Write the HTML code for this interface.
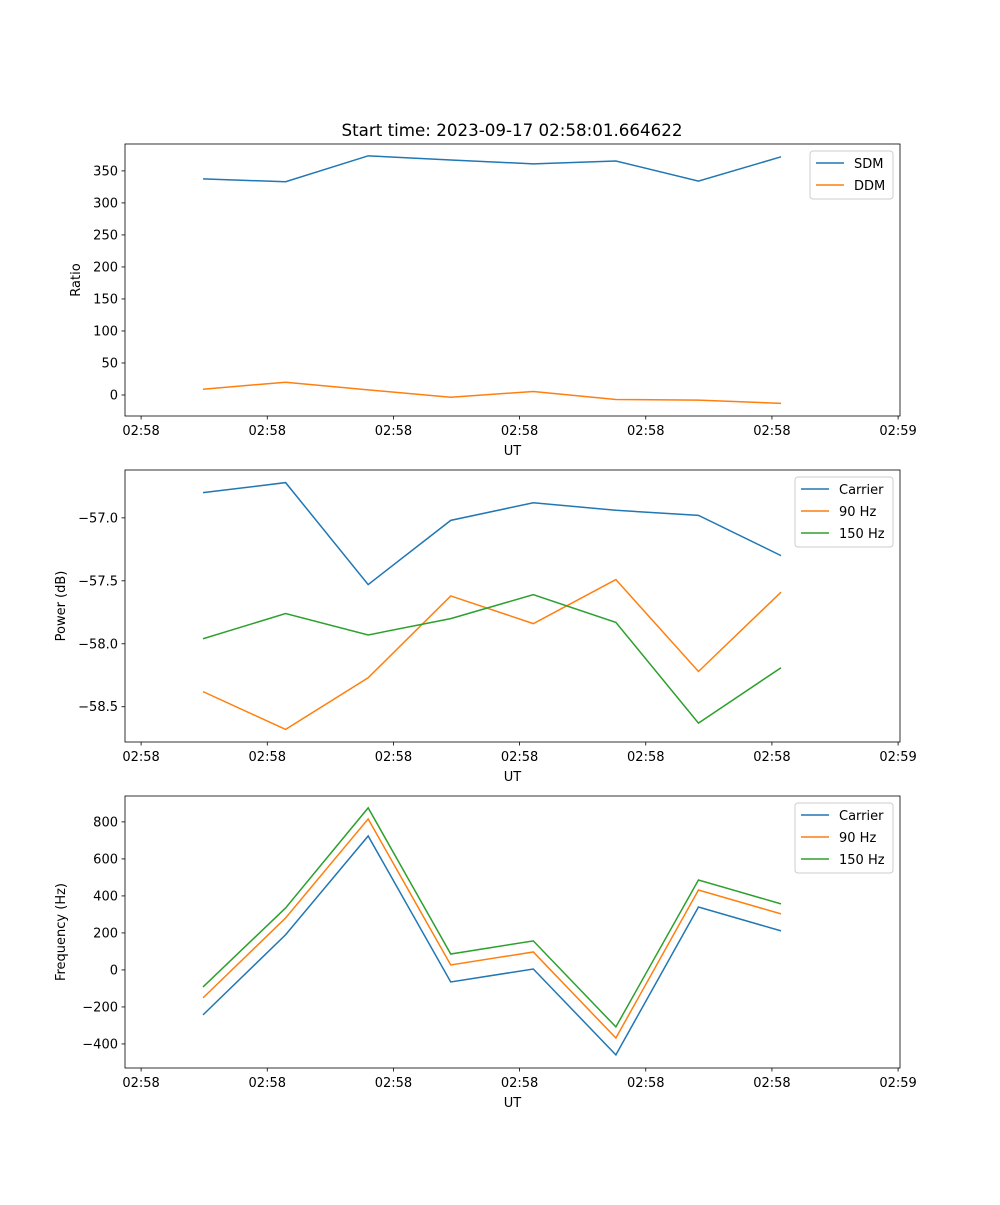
<!DOCTYPE html>
<html><head><meta charset="utf-8"><style>
body{margin:0;background:#fff}
svg text{font-family:"DejaVu Sans","Liberation Sans",sans-serif;fill:#000}
</style></head><body>
<svg id="fig" width="1000" height="1200" xmlns="http://www.w3.org/2000/svg"></svg>
<script>
const xIndex=[0,1,2,3,4,5,6,7];
const xTickLabels=["02:58","02:58","02:58","02:58","02:58","02:58","02:59"];
const xTickPos=[-0.75,0.778,2.306,3.834,5.362,6.89,8.418];
const sdm=[337.5,333,373.5,367,361,365.5,334,372];
const ddm=[9,20,8,-3.5,5.5,-7,-8,-13];
const pCarrier=[-56.80,-56.72,-57.53,-57.02,-56.88,-56.94,-56.98,-57.30];
const p90=[-58.38,-58.68,-58.27,-57.62,-57.84,-57.49,-58.22,-57.59];
const p150=[-57.96,-57.76,-57.93,-57.80,-57.61,-57.83,-58.63,-58.19];
const fCarrier=[-243,190,724,-65,5,-459,340,211];
const f90=[-151,281,816,27,97,-368,432,303];
const f150=[-92,335,876,86,157,-308,486,357];
const C=["#1f77b4","#ff7f0e","#2ca02c"];
const svg=document.getElementById('fig');
const NS="http://www.w3.org/2000/svg";
function el(t,a,p){const e=document.createElementNS(NS,t);for(const k in a)e.setAttribute(k,a[k]);(p||svg).appendChild(e);return e;}
const L=125,R=900,xmin=-0.945,xmax=8.441;
const xs=v=>L+(v-xmin)/(xmax-xmin)*(R-L);
function panel(name,top,ymin,ymax,yticks,ylabFmt,ylabel,series,names,legW){
  const bot=top+272;
  const g=el('g',{});
  
  
  const ys=v=>bot-(v-ymin)/(ymax-ymin)*272;
  series.forEach((s,i)=>{
    const pl=el('polyline',{points:s.map((v,j)=>xs(xIndex[j])+','+ys(v)).join(' '),fill:'none',stroke:C[i],'stroke-width':1.5},g);
    
    
  });
  el('rect',{x:L,y:top,width:R-L,height:272,fill:'none',stroke:'#000','stroke-width':0.8},g);
  xTickPos.forEach((p,i)=>{const x=xs(p);
    el('line',{x1:x,x2:x,y1:bot,y2:bot+3.5,stroke:'#000','stroke-width':0.8},g);
    const t=el('text',{x:x,y:bot+19,'font-size':13,'text-anchor':'middle'},g);t.textContent=xTickLabels[i];
    });
  yticks.forEach(v=>{const y=ys(v);
    el('line',{x1:L-3.5,x2:L,y1:y,y2:y,stroke:'#000','stroke-width':0.8},g);
    const t=el('text',{x:L-7,y:y+4.5,'font-size':13,'text-anchor':'end'},g);t.textContent=ylabFmt(v);
    });
  const xl=el('text',{x:(L+R)/2,y:bot+39,'font-size':13,'text-anchor':'middle'},g);xl.textContent='UT';
  
  const yx=name==='ratio'?80:65;
  const yl=el('text',{x:yx,y:top+136,'font-size':13,'text-anchor':'middle',transform:`rotate(-90 ${yx} ${top+136})`},g);yl.textContent=ylabel;
  
  const lx=R-7-legW,ly=top+7,lh=names.length*22+4;
  const lg=el('g',{},g);
  el('rect',{x:lx,y:ly,width:legW,height:lh,rx:3,fill:'#fff',stroke:'#ccc','stroke-width':1},lg);
  names.forEach((n,i)=>{const y=ly+12+i*22;
    el('line',{x1:lx+6,x2:lx+34,y1:y,y2:y,stroke:C[i],'stroke-width':1.5},lg);
    const t=el('text',{x:lx+44,y:y+5,'font-size':13},lg);t.textContent=n;
    });
}
const tt=el('text',{x:512,y:136,'font-size':16.7,'text-anchor':'middle'});tt.textContent='Start time: 2023-09-17 02:58:01.664622';

panel('ratio',144,-32.8,392,[0,50,100,150,200,250,300,350],v=>String(v),'Ratio',[sdm,ddm],['SDM','DDM'],83);
panel('power',470,-58.78,-56.62,[-58.5,-58.0,-57.5,-57.0],v=>'\u2212'+Math.abs(v).toFixed(1),'Power (dB)',[pCarrier,p90,p150],['Carrier','90 Hz','150 Hz'],98);
panel('frequency',796,-530,940,[-400,-200,0,200,400,600,800],v=>v<0?'\u2212'+Math.abs(v):String(v),'Frequency (Hz)',[fCarrier,f90,f150],['Carrier','90 Hz','150 Hz'],98);
</script>
</body></html>
